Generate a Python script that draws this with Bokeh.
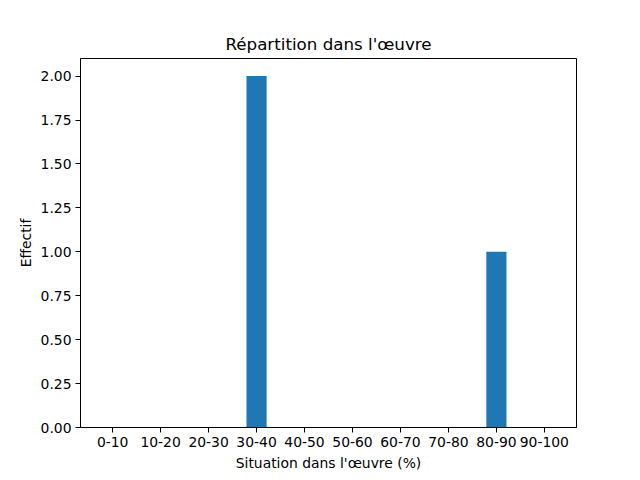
from bokeh.plotting import figure
from bokeh.models import FixedTicker, NumeralTickFormatter, Range1d
from bokeh.embed import file_html
from bokeh.resources import INLINE

categories = ["0-10", "10-20", "20-30", "30-40", "40-50", "50-60", "60-70", "70-80", "80-90", "90-100"]
counts = [0, 0, 0, 2, 0, 0, 0, 0, 1, 0]
y_ticks = [0.0, 0.25, 0.5, 0.75, 1.0, 1.25, 1.5, 1.75, 2.0]

FONT = "DejaVu Sans"

p = figure(width=624, height=464, frame_width=496, frame_height=369,
           output_backend="svg", toolbar_location=None,
           title="Répartition dans l'œuvre",
           x_range=Range1d(-0.67, 9.67), y_range=Range1d(0, 2.1),
           min_border_left=80, min_border_right=48, min_border_top=58, min_border_bottom=37)

xs = list(range(len(categories)))
p.vbar(x=xs, top=counts, width=0.42, bottom=0, fill_color="#1f77b4", line_color=None)

p.title.text_font = FONT
p.title.text_font_size = "16.7px"
p.title.text_font_style = "normal"
p.title.align = "center"
p.title.text_color = "black"
p.title.standoff = 10

p.xgrid.visible = False
p.ygrid.visible = False
p.outline_line_color = "black"
p.outline_line_width = 1
p.background_fill_color = "white"
p.border_fill_color = "white"

p.xaxis.ticker = FixedTicker(ticks=xs)
p.xaxis.major_label_overrides = {i: c for i, c in enumerate(categories)}
p.yaxis.ticker = FixedTicker(ticks=y_ticks)
p.yaxis.formatter = NumeralTickFormatter(format="0.00")

p.xaxis.axis_label = "Situation dans l'œuvre (%)"
p.yaxis.axis_label = "Effectif"

for ax in (p.xaxis, p.yaxis):
    ax.major_label_text_font = FONT
    ax.major_label_text_font_size = "13.9px"
    ax.major_label_text_color = "black"
    ax.axis_label_text_font = FONT
    ax.axis_label_text_font_size = "13.9px"
    ax.axis_label_text_font_style = "normal"
    ax.axis_label_text_color = "black"
    ax.minor_tick_line_color = None
    ax.major_tick_out = 5
    ax.major_tick_in = 0
    ax.major_tick_line_color = "black"
    ax.axis_line_color = "black"
    ax.major_label_standoff = 4
    ax.axis_label_standoff = 5

p.yaxis.axis_label_standoff = 4

open("out.html", "w").write(file_html(p, INLINE))
